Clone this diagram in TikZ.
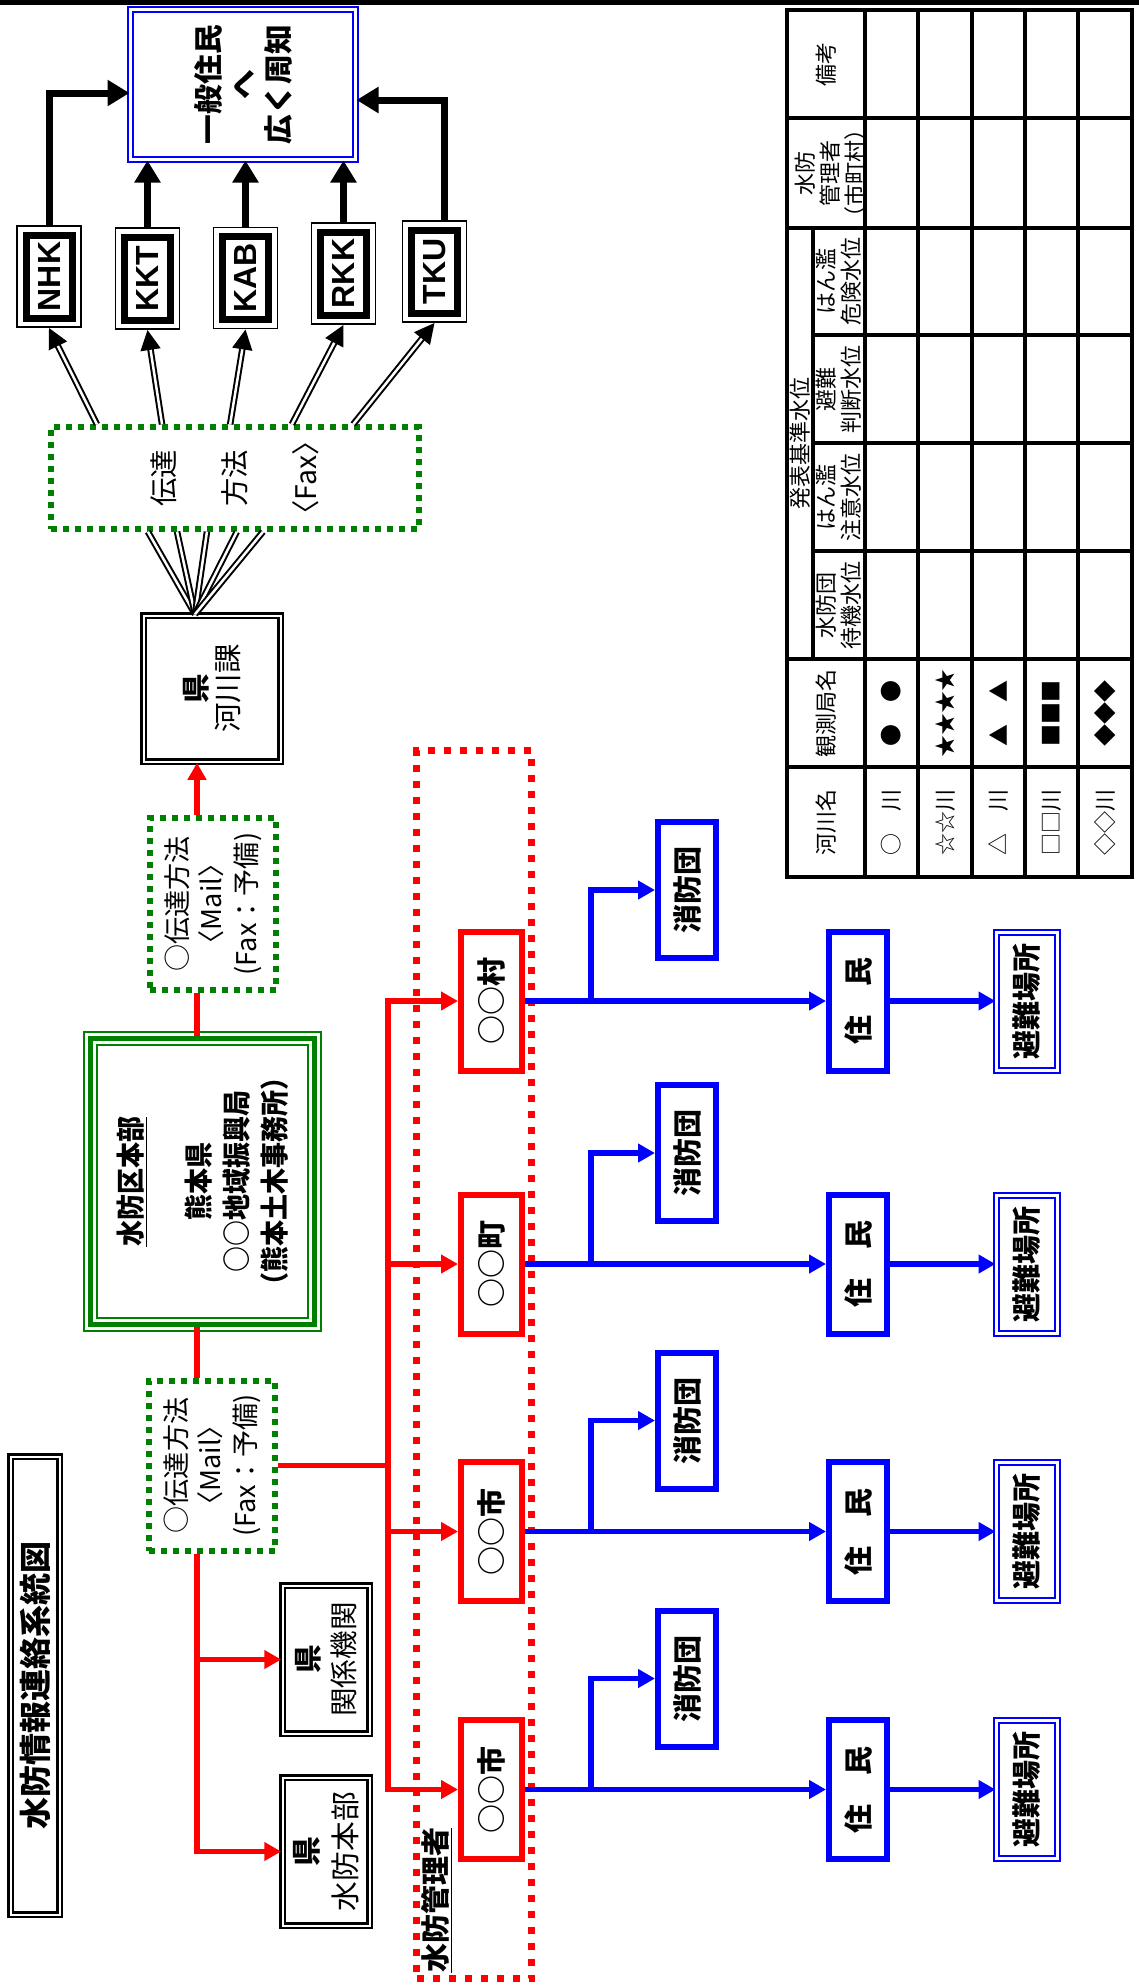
\documentclass[tikz,border=0pt]{standalone}
\usepackage{fontspec}
\usepackage{graphicx}
\setmainfont{Noto Sans CJK JP}
\newfontfamily\latinfont{Liberation Sans}
\usetikzlibrary{arrows.meta,calc}

\definecolor{dgreen}{RGB}{0,128,0}
\definecolor{pblue}{RGB}{0,0,255}
\definecolor{pred}{RGB}{255,0,0}

% upright text turned a quarter to the left, lines split by \cr
\newcommand\vtext[1]{\rotatebox{90}{\vbox{\halign{\hfil##\hfil\cr#1\crcr}}}}
% same, with line pitch #3, fitted to length #1 and thickness #2
\newcommand\vlines[2]{\vbox{\baselineskip=#1\lineskiplimit=-100pt\halign{\hfil##\hfil\cr#2\crcr}}}
\newcommand\vfit[4]{\rotatebox{90}{\resizebox*{#1}{#2}{\vlines{#3}{#4}}}}

\tikzset{
	every node/.style={inner sep=0pt},
	boldtxt/.style={font=\fontsize{14.5}{18}\selectfont\bfseries},
	plaintxt/.style={font=\fontsize{14.5}{18}\selectfont},
	tbltxt/.style={font=\fontsize{11}{12.5}\selectfont},
	dblbox/.style={draw, line width=1.25pt, double=white, double distance=1pt},
	bluedbl/.style={draw=pblue, line width=1pt, double=white, double distance=1.5pt},
	station/.style={draw, line width=3.5pt, minimum width=23pt, minimum height=41.5pt, outer sep=5pt, font=\latinfont\fontsize{16}{18}\selectfont\bfseries},
	greendot/.style={draw=dgreen, line width=3pt, dash pattern=on 3pt off 3pt},
	redbox/.style={draw=pred, line width=3pt, minimum width=30.5pt, minimum height=69.5pt, boldtxt},
	bluebox/.style={draw=pblue, line width=3pt, boldtxt},
	thickarr/.style={line width=3.5pt, -{Triangle[length=11pt,width=12.5pt]}},
	dblarr/.style={draw, line width=1pt, double=white, double distance=1.25pt},
	redln/.style={pred, line width=2.75pt},
	bluln/.style={pblue, line width=2.75pt},
	headtip/.style={-{Triangle[length=8.5pt,width=9pt]}},
	tbl/.style={line width=1.6pt}
}

\begin{document}
\begin{tikzpicture}[x=0.5pt,y=-0.5pt]
	\useasboundingbox (0,0) rectangle (1139,1988);
	\fill (0,0) rectangle (1139,4.5);

	% title
	\node[dblbox, minimum width=24.5pt, minimum height=229pt, font=\fontsize{16}{18}\selectfont\bfseries] (title) at (35,1685.5) {\vtext{水防情報連絡系統図}};

	% broadcasters and the public
	\node[bluedbl, minimum width=112.5pt, minimum height=75pt, font=\fontsize{15}{18}\selectfont\bfseries] (pub) at (243,84.5) {\vfit{59.5pt}{49pt}{18pt}{一般住民\cr へ\cr 広く周知}};
	\foreach \n/\t/\x/\y in {nhk/NHK/49/276.5, kkt/KKT/147.5/278.5, kab/KAB/245.5/278, rkk/RKK/343.5/273.5, tku/TKU/434.5/271.5}{
		\node[station] (\n) at (\x,\y) {\rotatebox{90}{\t}};
		\draw[line width=0.75pt] ([shift={(1,1)}]\n.north west) rectangle ([shift={(-1,-1)}]\n.south east);
	}
	\draw[thickarr] (nhk.north) |- ($(pub.west)+(0,8.5)$);
	\draw[thickarr] (kkt.north) -- (kkt.north |- pub.south);
	\draw[thickarr] (kab.north) -- (kab.north |- pub.south);
	\draw[thickarr] (rkk.north) -- (rkk.north |- pub.south);
	\draw[thickarr] ($(tku.north)+(10,0)$) |- ($(pub.east)+(0,15.5)$);

	% fax and river section
	\node[greendot, minimum width=184pt, minimum height=50pt, font=\fontsize{14.3}{18}\selectfont] (fax) at (235,478) {\vfit{!}{84pt}{35.75pt}{伝達\cr 方法\cr 〈Fax〉}};
	\node[dblbox, minimum width=68.5pt, minimum height=73pt, font=\fontsize{14.7}{18}\selectfont] (kasen) at (212,688.5) {\vfit{44.25pt}{29pt}{16.75pt}{\bfseries 県\cr 河川課}};
	\foreach \n/\a/\b in {nhk/0.131/0.267, kkt/0.305/0.345, kab/0.487/0.425, rkk/0.652/0.505, tku/0.816/0.575}{
		\draw[dblarr] ($(kasen.north)+(-17,0)$) -- ($(fax.south west)!\b!(fax.south east)$);
		\draw[dblarr, -{Triangle[length=10pt,width=10pt]}] ($(fax.north west)!\a!(fax.north east)$) -- (\n.south);
	}

	% district headquarters
	\node[greendot, minimum width=63pt, minimum height=86pt, plaintxt] (mail1) at (213,904) {\vfit{!}{48.5pt}{18.4pt}{○伝達方法\cr〈Mail〉\cr (Fax：予備)}};
	\node[draw=dgreen, line width=2.5pt, minimum width=112pt, minimum height=143pt, font=\fontsize{14.7}{18}\selectfont\bfseries] (hq) at (202.5,1181.5) {\vfit{117pt}{86pt}{19.5pt}{\underline{水防区本部}\cr\noalign{\kern15.5pt}熊本県\cr ○○地域振興局\cr（熊本土木事務所）}};
	\draw[dgreen, line width=1pt] ([shift={(-4,-4)}]hq.north west) rectangle ([shift={(4,4)}]hq.south east);
	\draw[dgreen, line width=1pt] ([shift={(9,9)}]hq.north west) rectangle ([shift={(-9,-9)}]hq.south east);
	\node[greendot, minimum width=63pt, minimum height=85pt, plaintxt] (mail2) at (212,1465.5) {\vfit{!}{48.5pt}{18.4pt}{○伝達方法\cr〈Mail〉\cr (Fax：予備)}};

	\coordinate (spine) at (197,0);
	\draw[redln, headtip] (mail1.north -| spine) -- (kasen.south -| spine);
	\draw[redln] (hq.north -| spine) -- (mail1.south -| spine);
	\draw[redln] (mail2.north -| spine) -- (hq.south -| spine);

	% prefecture offices
	\node[dblbox, minimum width=43.5pt, minimum height=74pt, font=\fontsize{14.3}{18}\selectfont] (kankei) at (326,1659.5) {\vfit{57.2pt}{31pt}{18.5pt}{\bfseries 県\cr 関係機関}};
	\node[dblbox, minimum width=43.5pt, minimum height=74pt, font=\fontsize{14.9}{18}\selectfont] (honbu) at (326,1851.5) {\vfit{59.5pt}{32.5pt}{19.5pt}{\bfseries 県\cr 水防本部}};
	\draw[redln, headtip] (mail2.south -| spine) |- (kankei.west);
	\draw[redln, headtip] (mail2.south -| spine) |- (honbu.west);

	% flood fighting managers
	\node[draw=pred, line width=3.5pt, dash pattern=on 3.5pt off 4.5pt, minimum width=57.5pt, minimum height=614pt] (mgr) at (474,1364.5) {};
	\node[boldtxt] (mgrlbl) at (437,1900) {\rotatebox{90}{\underline{水防管理者}}};

	\coordinate (trunk) at (388,0);
	\coordinate (fork) at (591,0);
	\foreach \m/\y/\t in {mura/1001/○○村, machi/1264/○○町, shia/1531.5/○○市, shib/1789.5/○○市}{
		\node[redbox] (\m) at (491.5,\y) {\vtext{\t}};
		\node[bluebox, minimum width=29pt, minimum height=68pt] (fire\m) at (687,\y-111) {\vtext{消防団}};
		\node[bluebox, minimum width=29pt, minimum height=69.5pt] (res\m) at (858,\y) {\vtext{住　民}};
		\node[bluedbl, minimum width=30.5pt, minimum height=69pt, boldtxt] (shel\m) at (1027,\y) {\vtext{避難場所}};
		\draw[bluln, headtip] (\m.east) -- (res\m.west);
		\draw[bluln, headtip] (\m.east -| fork) |- (fire\m.west);
		\draw[bluln, headtip] (res\m.east) -- (shel\m.west);
		\draw[redln, headtip] (trunk |- \m.west) -- (\m.west);
	}
	\draw[redln, line cap=rect] (trunk |- mura.west) -- (trunk |- shib.west);
	\draw[redln] (mail2.east) -- (mail2.east -| trunk);

	% gauge table
	\begin{scope}[tbl]
		\draw (787,10) rectangle (1132,877);
		\foreach \x in {865,918,972,1025,1078} \draw (\x,10) -- (\x,877);
		\foreach \y in {118,228,659,767} \draw (787,\y) -- (1132,\y);
		\foreach \y in {335,443,551} \draw (813,\y) -- (1132,\y);
		\draw (813,228) -- (813,659);
	\end{scope}
	\node[tbltxt] (hbiko) at (826,64) {\vtext{備考}};
	\node[tbltxt] (hkanri) at (830,173) {\vtext{水防\cr 管理者\cr（市町村）}};
	\node[tbltxt] (hhappyo) at (800,443.5) {\vtext{発表基準水位}};
	\foreach \n/\y/\a/\b in {kiken/281.5/はん濫/危険水位, hinan/389/避難/判断水位, chui/497/はん濫/注意水位, taiki/605/水防団/待機水位}
		\node[tbltxt] (h\n) at (839,\y) {\vtext{\a\cr\b}};
	\node[tbltxt] (hkyoku) at (826,713) {\vtext{観測局名}};
	\node[tbltxt] (hriver) at (826,822) {\vtext{河川名}};
	\foreach \i/\x/\rv/\gs in {1/891.5/○　川/●　●, 2/945/☆☆川/★★★★, 3/998.5/△　川/▲　▲, 4/1051.5/□□川/■■■, 5/1105/◇◇川/◆◆◆}{
		\node[tbltxt] (river\i) at (\x,822) {\rotatebox{90}{\rv}};
		\node[tbltxt] (gauge\i) at (\x,713) {\rotatebox{90}{\gs}};
	}
\end{tikzpicture}
\end{document}
